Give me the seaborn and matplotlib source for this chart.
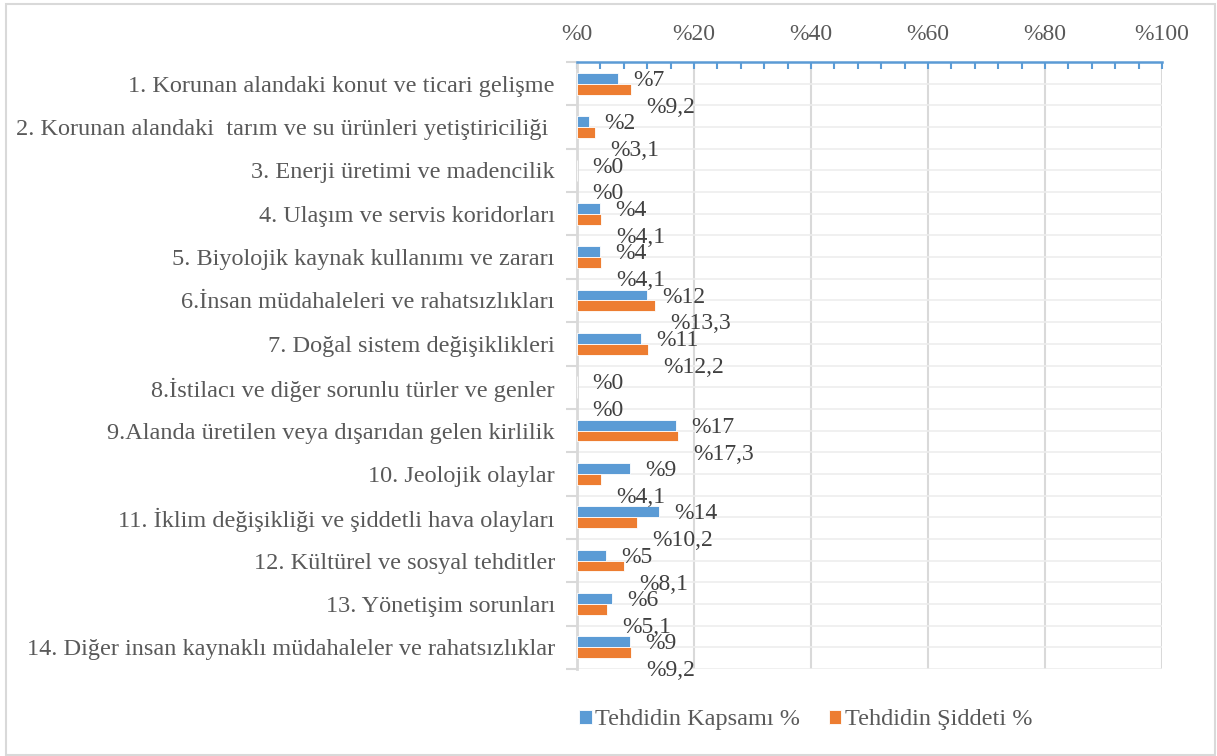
import pandas as pd
import numpy as np
import matplotlib.pyplot as plt
import seaborn as sns
from matplotlib.patches import Rectangle
from matplotlib.ticker import MultipleLocator

# Veriler
kategoriler = [
    "1. Korunan alandaki konut ve ticari gelişme",
    "2. Korunan alandaki  tarım ve su ürünleri yetiştiriciliği ",
    "3. Enerji üretimi ve madencilik",
    "4. Ulaşım ve servis koridorları",
    "5. Biyolojik kaynak kullanımı ve zararı",
    "6.İnsan müdahaleleri ve rahatsızlıkları",
    "7. Doğal sistem değişiklikleri",
    "8.İstilacı ve diğer sorunlu türler ve genler",
    "9.Alanda üretilen veya dışarıdan gelen kirlilik",
    "10. Jeolojik olaylar",
    "11. İklim değişikliği ve şiddetli hava olayları",
    "12. Kültürel ve sosyal tehditler",
    "13. Yönetişim sorunları",
    "14. Diğer insan kaynaklı müdahaleler ve rahatsızlıklar",
]
kapsam = [7, 2, 0, 4, 4, 12, 11, 0, 17, 9, 14, 5, 6, 9]
siddet = [9.2, 3.1, 0, 4.1, 4.1, 13.3, 12.2, 0, 17.3, 4.1, 10.2, 8.1, 5.1, 9.2]
seriler = ["Tehdidin Kapsamı %", "Tehdidin Şiddeti %"]
x_ticks = [0, 20, 40, 60, 80, 100]

MAVI = "#5B9BD5"
TURUNCU = "#ED7D31"
GRI_YAZI = "#595959"
GRID = "#D9D9D9"

df = pd.DataFrame({
    "kategori": kategoriler * 2,
    "deger": kapsam + siddet,
    "seri": [seriler[0]] * len(kapsam) + [seriler[1]] * len(siddet),
})

sns.set_theme(style="white")
plt.rcParams["font.family"] = ["Liberation Serif", "DejaVu Serif"]
plt.rcParams["text.color"] = GRI_YAZI

fig = plt.figure(figsize=(12.17, 7.56), dpi=100)
ax = fig.add_axes([577 / 1217, 1 - 669 / 756, (1162 - 577) / 1217, (669 - 62) / 756])

sns.barplot(
    data=df, y="kategori", x="deger", hue="seri", orient="h",
    palette=[MAVI, TURUNCU], saturation=1, width=0.5, gap=0, legend=False,
    edgecolor="white", linewidth=0.6, ax=ax, zorder=3,
)

ax.set_xlim(0, 100)
ax.set_ylim(13.5, -0.5)
ax.set_xlabel("")
ax.set_ylabel("")

# Üst eksen
ax.xaxis.tick_top()
ax.set_xticks(x_ticks)
ax.set_xticklabels([f"%{t}" for t in x_ticks])
ax.xaxis.set_minor_locator(MultipleLocator(4))
ax.tick_params(axis="x", which="both", direction="in", color=MAVI, width=1.5,
               labelsize=17, labelcolor=GRI_YAZI, pad=12)
ax.tick_params(axis="x", which="major", length=5)
ax.tick_params(axis="x", which="minor", length=5)

# Sol eksen
ax.set_yticks(np.arange(len(kategoriler)))
ax.set_yticks(np.arange(-0.5, len(kategoriler), 1), minor=True)
ax.tick_params(axis="y", which="major", length=0, labelsize=17.5,
               labelcolor=GRI_YAZI, pad=16)
ax.tick_params(axis="y", which="minor", direction="out", length=8,
               color=GRID, width=1.5, left=True)

for s in ["right", "bottom"]:
    ax.spines[s].set_visible(False)
ax.spines["top"].set_color(MAVI)
ax.spines["top"].set_linewidth(1.8)
ax.spines["left"].set_color(GRID)
ax.spines["left"].set_linewidth(2)

ax.grid(axis="x", which="major", color=GRID, linewidth=1.5, zorder=0)
ax.grid(axis="y", which="both", color="#EDEDED", linewidth=1.2, zorder=0)
ax.set_axisbelow(True)

# Veri etiketleri
def etiket(v):
    if float(v).is_integer():
        return f"%{int(v)}"
    return "%" + f"{v}".replace(".", ",")

for cont, vals, dy in zip(ax.containers, [kapsam, siddet], [-1.5, -13]):
    for bar, v in zip(cont.patches, vals):
        yc = bar.get_y() + bar.get_height() / 2
        ax.annotate(etiket(v), xy=(bar.get_width(), yc), xytext=(11, dy),
                    textcoords="offset points", ha="left", va="center",
                    fontsize=17, color="#404040", zorder=5,
                    annotation_clip=False)

# Lejant
fig.legend(
    handles=list(ax.containers), labels=seriler, loc="center",
    bbox_to_anchor=(806 / 1217, 1 - 720 / 756), ncol=2, frameon=False,
    fontsize=17.5, handlelength=0.5, handleheight=0.5, handletextpad=0.15,
    columnspacing=1.2,
)

# Dış çerçeve
fig.patches.append(Rectangle((6 / 1217, 1 / 756), 1209 / 1217, 751 / 756,
                             transform=fig.transFigure, fill=False,
                             edgecolor=GRID, linewidth=1.5))

plt.savefig("out.png", dpi=100)
